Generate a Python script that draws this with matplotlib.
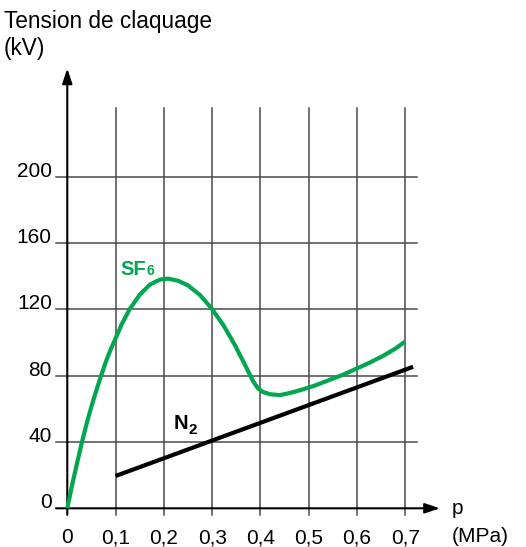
import matplotlib.pyplot as plt

plt.rcParams['font.family'] = ['Liberation Sans', 'DejaVu Sans']

# values
p_sf6 = [0, 0.01, 0.02, 0.03, 0.04, 0.05, 0.06, 0.07, 0.08, 0.09, 0.1,
         0.1126, 0.1298, 0.1505, 0.1712, 0.192, 0.209, 0.230, 0.250,
         0.2747, 0.299, 0.323, 0.347, 0.368, 0.385, 0.395, 0.405, 0.42,
         0.44, 0.46, 0.4825, 0.51, 0.537, 0.57, 0.599, 0.627, 0.654, 0.68, 0.699]
v_sf6 = [0, 14, 27, 39.5, 51, 61.5, 71, 80, 88.5, 96, 102.5,
         111, 120.5, 129, 135, 138, 138.6, 137.2, 134.5,
         128.7, 120.5, 110.6, 98.5, 86.5, 76.5, 72.3, 70.2, 68.8,
         68.3, 69.5, 71.3, 73.8, 76.8, 80.5, 84.3, 88, 92, 96.5, 100.5]
p_n2 = [0.1, 0.716]
v_n2 = [19.5, 85.4]

x_ticks = [0, 0.1, 0.2, 0.3, 0.4, 0.5, 0.6, 0.7]
x_labels = ["0", "0,1", "0,2", "0,3", "0,4", "0,5", "0,6", "0,7"]
y_ticks = [0, 40, 80, 120, 160, 200]

GREEN = "#00a650"
GRID = "#4a4a4a"

fig = plt.figure(figsize=(5.26, 5.47), dpi=100)
ax = fig.add_axes([0, 0, 1, 1])
ax.set_xlim(-0.1393, 0.9497)
ax.set_ylim(-23.35, 306.7)
ax.axis("off")

# grid
for x in x_ticks[1:]:
    ax.plot([x, x], [-4, 241.3], color=GRID, lw=1.1, zorder=1)
for y in y_ticks[1:]:
    ax.plot([-0.0234, 0.7234], [y, y], color=GRID, lw=1.1, zorder=1)

# axes with arrows
arrow = dict(arrowstyle="-|>,head_length=0.9,head_width=0.3", color="black",
             lw=1.5, mutation_scale=10, shrinkA=0, shrinkB=0)
ax.annotate("", xy=(0, 265.4), xytext=(0, -4), arrowprops=arrow)
ax.annotate("", xy=(0.7716, 0), xytext=(-0.0234, 0), arrowprops=arrow)

# curves
ax.plot(p_sf6, v_sf6, color=GREEN, lw=3, solid_capstyle="butt",
        solid_joinstyle="round", zorder=3)
ax.plot(p_n2, v_n2, color="black", lw=3, solid_capstyle="butt", zorder=3)

# tick labels
for y in y_ticks:
    ax.text(-0.032, y, str(y), ha="right", va="baseline", fontsize=15)
for x, lab in zip(x_ticks, x_labels):
    ax.text(x, -21.1, lab, ha="center", va="baseline", fontsize=15)

# axis titles
ax.text(-0.131, 289.6, "Tension de claquage", ha="left", va="baseline", fontsize=16.3)
ax.text(-0.131, 273.5, "(kV)", ha="left", va="baseline", fontsize=16.3)
ax.text(0.7965, -3.4, "p", ha="left", va="baseline", fontsize=15)
ax.text(0.7965, -20.5, "(MPa)", ha="left", va="baseline", fontsize=15)

# curve labels
ax.text(0.1091, 140.8, "SF", color=GREEN, fontsize=14.5, fontweight="bold",
        ha="left", va="baseline")
ax.text(0.1630, 141.0, "6", color=GREEN, fontsize=10, fontweight="bold",
        ha="left", va="baseline")
ax.text(0.2195, 47.7, "N", color="black", fontsize=14.5, fontweight="bold",
        ha="left", va="baseline")
ax.text(0.2505, 44.8, "2", color="black", fontsize=11, fontweight="bold",
        ha="left", va="baseline")

fig.savefig("out.png", dpi=100)
